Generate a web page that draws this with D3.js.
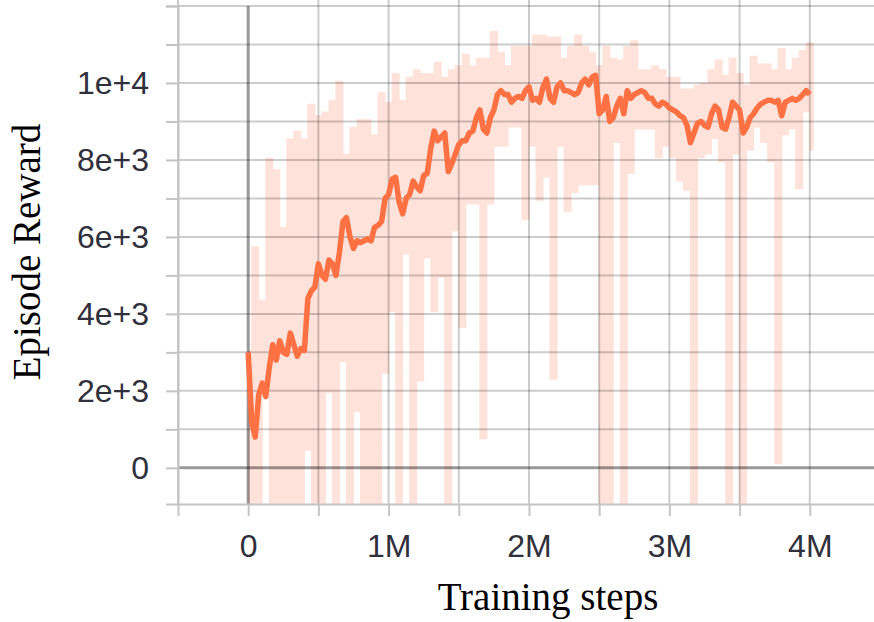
<!DOCTYPE html>
<html>
<head>
<meta charset="utf-8">
<script src="https://cdn.jsdelivr.net/npm/d3@7"></script>
<style>
body { margin: 0; background: #fff; }
svg { display: block; }
.tick text { font-family: "Liberation Sans", Arial, sans-serif; font-size: 32px; fill: #30303c; }
.tick line, .domain { stroke: #c4c4c4; stroke-width: 2px; }
.grid line { stroke: #000; stroke-opacity: 0.2; stroke-width: 2px; }
.zero { stroke: #000; stroke-opacity: 0.4; stroke-width: 3px; }
.title { font-family: "Liberation Serif", "Times New Roman", serif; font-size: 39px; fill: #000; }
</style>
</head>
<body>
<script>
// rewards are in thousands
// smoothed curve, one value every 25k steps (0 .. 4M)
var smoothStepK = 25;
var smoothReward = [
  3.0, 1.2, 0.8, 1.9, 2.2, 1.85, 2.6, 3.2, 2.8, 3.3,
  3.0, 2.95, 3.5, 3.2, 2.9, 3.1, 3.05, 4.4, 4.6, 4.7,
  5.3, 5.0, 4.9, 5.4, 5.3, 5.0, 5.6, 6.4, 6.5, 6.0,
  5.7, 5.9, 5.85, 5.9, 5.95, 5.9, 6.25, 6.3, 6.4, 7.0,
  7.1, 7.5, 7.55, 6.9, 6.6, 7.0, 7.1, 7.45, 7.3, 7.2,
  7.6, 7.65, 8.3, 8.75, 8.5, 8.6, 8.7, 7.7, 7.9, 8.15,
  8.4, 8.5, 8.5, 8.7, 8.75, 9.1, 9.3, 8.8, 8.7, 9.1,
  9.3, 9.7, 9.8, 9.7, 9.7, 9.5, 9.6, 9.65, 9.6, 9.8,
  9.9, 9.55, 9.6, 9.5, 9.9, 10.1, 9.6, 9.5, 9.9, 10.0,
  9.8, 9.8, 9.75, 9.7, 9.75, 10.0, 10.1, 9.95, 10.15, 10.2,
  9.2, 9.3, 9.65, 9.0, 9.1, 9.4, 9.6, 9.2, 9.8, 9.6,
  9.7, 9.75, 9.8, 9.75, 9.6, 9.6, 9.45, 9.4, 9.5, 9.45,
  9.35, 9.3, 9.25, 9.15, 9.1, 8.9, 8.45, 8.7, 8.95, 9.0,
  8.9, 8.85, 9.2, 9.4, 9.3, 8.85, 8.8, 9.1, 9.5, 9.4,
  9.3, 8.7, 8.85, 9.1, 9.2, 9.35, 9.45, 9.5, 9.55, 9.55,
  9.5, 9.55, 9.15, 9.5, 9.55, 9.6, 9.55, 9.6, 9.7, 9.8,
  9.7
];

// raw episodes: high and low of every 50k step bucket
var rawStepK = 50;
var rawHigh = [
  3.0, 5.7, 4.3, 8.0, 7.7, 6.2, 8.5, 8.7, 8.5, 9.4,
  9.1, 9.2, 9.5, 10.0, 8.1, 8.8, 9.0, 9.0, 8.6, 9.7,
  9.45, 10.2, 9.5, 10.1, 10.3, 10.2, 10.2, 10.5, 10.1, 10.3,
  10.4, 10.7, 10.4, 10.6, 10.6, 11.3, 10.75, 10.4, 10.9, 10.9,
  10.9, 11.2, 11.2, 11.15, 11.15, 10.6, 10.9, 11.2, 10.9, 10.75,
  10.4, 10.9, 10.6, 10.55, 10.9, 11.05, 10.3, 10.3, 10.4, 10.3,
  10.1, 10.1, 9.8, 9.8, 9.9, 9.95, 10.3, 10.55, 10.15, 10.6,
  10.2, 9.9, 10.65, 10.45, 10.45, 10.3, 10.85, 10.3, 10.6, 10.8,
  11.0
];
var rawLow = [
  -1.5, -1.5, 1.9, -1.5, -1.5, -1.5, -1.5, -1.5, 0.5, -1.5,
  -1.5, 2.0, -1.5, 2.8, -1.5, 1.5, -1.5, -1.5, -1.5, 2.5,
  4.1, -1.5, 5.6, -1.5, 2.3, 5.5, 4.1, 5.0, -1.5, 6.2,
  3.7, 6.9, 6.9, 0.8, 6.9, 8.4, 8.4, 8.9, 8.9, 6.5,
  8.4, 7.0, 7.6, 2.35, 8.4, 6.7, 7.2, 7.4, 7.4, 7.4,
  -1.5, -1.5, 8.5, -1.5, 7.7, 8.85, 8.85, 8.85, 8.1, 8.4,
  8.1, 7.5, 7.25, -1.5, 8.1, 8.2, 8.6, 8.0, -1.5, 8.2,
  -1.5, 8.3, 8.9, 8.5, 8.0, 0.15, 8.7, 8.85, 7.3, 9.3,
  8.3
];

var xTickValues = [-500000, 0, 500000, 1000000, 1500000, 2000000, 2500000, 3000000, 3500000, 4000000, 4500000];
var xTickLabels = ["", "0", "", "1M", "", "2M", "", "3M", "", "4M", ""];
var yTickValues = [0, 1000, 2000, 3000, 4000, 5000, 6000, 7000, 8000, 9000, 10000, 11000, 12000];
var yTickLabels = ["0", "", "2e+3", "", "4e+3", "", "6e+3", "", "8e+3", "", "1e+4", "", ""];

var margin = {top: 6, right: -6, bottom: 118, left: 178},
    width = 874 - margin.left - margin.right,
    height = 622 - margin.top - margin.bottom;

var x = d3.scaleLinear().domain([-500000, 4500000]).range([0, width]);
var y = d3.scaleLinear().domain([-940, 12000]).range([height, 0]);

var smoothData = smoothReward.map(function(v, i) {
    return {step: i * smoothStepK * 1000, reward: v * 1000};
});
var rawData = [];
rawHigh.forEach(function(v, i) {
    rawData.push({step: i * rawStepK * 1000, reward: v * 1000});
    rawData.push({step: (i + 0.5) * rawStepK * 1000, reward: rawLow[i] * 1000});
});

var svg = d3.select("body").append("svg")
    .attr("width", 874)
    .attr("height", 622);
var g = svg.append("g")
    .attr("transform", "translate(" + margin.left + "," + margin.top + ")");

g.append("clipPath").attr("id", "plot")
  .append("rect")
    .attr("width", width)
    .attr("height", height);

// raw line
var rawLine = d3.line()
    .curve(d3.curveStep)
    .x(function(d) { return x(d.step); })
    .y(function(d) { return y(d.reward); });
g.append("path")
    .datum(rawData)
    .attr("clip-path", "url(#plot)")
    .attr("fill", "none")
    .attr("stroke", "#ff7043")
    .attr("stroke-opacity", 0.2)
    .attr("stroke-width", 4.5)
    .attr("d", rawLine);

// gridlines
g.append("g")
    .attr("class", "grid")
    .selectAll("line")
    .data(xTickValues.filter(function(d) { return d !== 0; }))
    .enter().append("line")
    .attr("x1", function(d) { return x(d); })
    .attr("x2", function(d) { return x(d); })
    .attr("y1", -margin.top)
    .attr("y2", height);
g.append("g")
    .attr("class", "grid")
    .selectAll("line")
    .data(yTickValues.filter(function(d) { return d !== 0; }))
    .enter().append("line")
    .attr("x1", 0)
    .attr("x2", width)
    .attr("y1", function(d) { return y(d); })
    .attr("y2", function(d) { return y(d); });

// zero lines
g.append("line")
    .attr("class", "zero")
    .attr("x1", x(0)).attr("x2", x(0))
    .attr("y1", 0).attr("y2", height);
g.append("line")
    .attr("class", "zero")
    .attr("x1", 0).attr("x2", width)
    .attr("y1", y(0)).attr("y2", y(0));

// smoothed line
var smoothLine = d3.line()
    .x(function(d) { return x(d.step); })
    .y(function(d) { return y(d.reward); });
g.append("path")
    .datum(smoothData)
    .attr("fill", "none")
    .attr("stroke", "#ff7043")
    .attr("stroke-width", 5.5)
    .attr("stroke-linejoin", "round")
    .attr("d", smoothLine);

// axes
g.append("g")
    .attr("transform", "translate(0," + height + ")")
    .call(d3.axisBottom(x)
        .tickValues(xTickValues)
        .tickFormat(function(d, i) { return xTickLabels[i]; })
        .tickSize(12)
        .tickSizeOuter(0)
        .tickPadding(18));
g.append("g")
    .call(d3.axisLeft(y)
        .tickValues(yTickValues)
        .tickFormat(function(d, i) { return yTickLabels[i]; })
        .tickSize(12)
        .tickSizeOuter(12)
        .tickPadding(17));

// axis titles
svg.append("text")
    .attr("class", "title")
    .attr("x", 548)
    .attr("y", 610)
    .attr("text-anchor", "middle")
    .text("Training steps");
svg.append("text")
    .attr("class", "title")
    .attr("transform", "translate(40,252) rotate(-90)")
    .attr("text-anchor", "middle")
    .text("Episode Reward");
</script>
</body>
</html>
